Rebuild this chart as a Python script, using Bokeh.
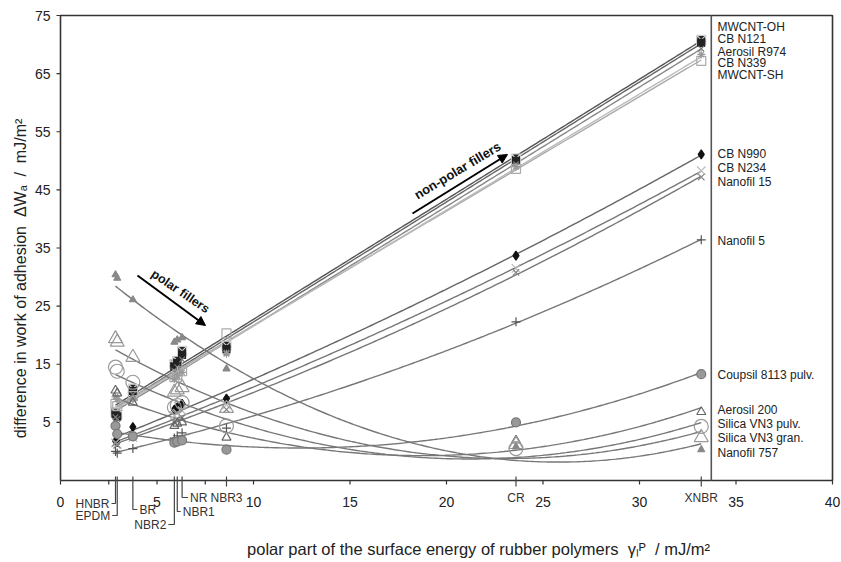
import numpy as np
from bokeh.plotting import figure
from bokeh.models import Range1d, Arrow, NormalHead
from bokeh.core.properties import value
from bokeh.embed import file_html
from bokeh.resources import INLINE

# ---------------- data ----------------
polymers = ["HNBR", "EPDM", "BR", "NBR2", "NBR1", "NR", "NBR3", "CR", "XNBR"]
gamma_p = [2.85, 2.94, 3.75, 5.90, 6.05, 6.30, 8.60, 23.6, 33.2]

# non-polar fillers (values at each polymer above)
mwcnt_oh     = [6.8, 6.3, 10.8, 15.0, 15.6, 17.3, 18.2, 50.4, 70.8]
cb_n121      = [6.4, 6.0, 10.4, 14.6, 15.2, 16.6, 17.6, 50.0, 70.3]
aerosil_r974 = [5.9, 5.6, 9.8, 13.9, 14.5, 15.8, 17.0, 49.4, 69.3]
cb_n339      = [8.2, 7.8, 9.5, 12.8, 13.2, 13.8, 20.3, 48.6, 67.2]
mwcnt_sh     = [9.4, 9.0, 8.9, 12.5, 13.0, 13.6, 16.8, 49.0, 68.3]
cb_n990      = [1.8, 1.6, 4.2, 7.2, 7.6, 8.2, 9.1, 33.7, 51.1]
cb_n234      = [1.5, 1.2, 2.4, 6.2, 6.6, 7.0, 8.0, 31.5, 48.3]
nanofil_15   = [1.4, 1.1, 2.8, 5.0, 5.4, 5.8, 7.2, 30.8, 47.2]
nanofil_5    = [0.0, -0.3, 0.5, 2.3, 2.7, 3.2, 4.0, 22.3, 36.4]
# polar fillers
coupsil_8113 = [4.4, 3.0, 2.6, 1.5, 1.7, 1.9, 0.3, 5.0, 13.3]
aerosil_200  = [10.5, 10.0, 8.4, 4.4, 4.8, 5.0, 2.4, 1.9, 6.8]
vn3_pulv     = [14.5, 13.8, 11.9, 7.6, 7.9, 8.4, 4.4, 0.5, 4.3]
vn3_gran     = [19.4, 18.8, 16.2, 10.2, 10.6, 11.0, 7.4, 1.2, 2.4]
nanofil_757  = [30.4, 29.8, 26.1, 18.8, 19.2, 19.6, 14.2, 0.8, 0.3]

filler_names = ["MWCNT-OH", "CB N121", "Aerosil R974", "CB N339", "MWCNT-SH",
                "CB N990", "CB N234", "Nanofil 15", "Nanofil 5",
                "Coupsil 8113 pulv.", "Aerosil 200", "Silica VN3 pulv.",
                "Silica VN3 gran.", "Nanofil 757"]
filler_values = [mwcnt_oh, cb_n121, aerosil_r974, cb_n339, mwcnt_sh,
                 cb_n990, cb_n234, nanofil_15, nanofil_5,
                 coupsil_8113, aerosil_200, vn3_pulv, vn3_gran, nanofil_757]
fit_degree = [1, 1, 1, 1, 1, 2, 2, 2, 2, 2, 2, 2, 2, 2]

x_ticks = [0, 5, 10, 15, 20, 25, 30, 35, 40]
x_minor_ticks = [2.5, 7.5]
y_ticks = [5, 15, 25, 35, 45, 55, 65, 75]

# ---------------- layout / style ----------------
W, H = 841, 562
PX_PER_X, PX_PER_Y = 19.3, 5.8125
X_LO = -60 / PX_PER_X
X_HI = X_LO + W / PX_PER_X
Y_HI = 75 + 15 / PX_PER_Y
Y_LO = Y_HI - H / PX_PER_Y

def sx(px):   # screen px -> data x
    return X_LO + px / PX_PER_X

def sy(py):   # screen px (from top) -> data y
    return Y_HI - py / PX_PER_Y

def dxp(px):  # px length -> data x length
    return px / PX_PER_X

FONT = value("Liberation Sans")

# marker, size, fill, line, curve colour
styles = [
    ("square_x", 9, "#222222", "#d0d0d0", "#555555"),
    ("square", 7, "#222222", "#222222", "#666666"),
    ("x", 8, None, "#777777", "#888888"),
    ("square", 9, None, "#aaaaaa", "#aaaaaa"),
    ("asterisk", 8, None, "#999999", "#bbbbbb"),
    ("diamond", 9, "#111111", "#111111", "#666666"),
    ("x", 12, None, "#bbbbbb", "#777777"),
    ("x", 9, None, "#888888", "#777777"),
    ("cross", 9, None, "#555555", "#777777"),
    ("circle", 9, "#999999", "#777777", "#777777"),
    ("triangle", 9, None, "#666666", "#777777"),
    ("circle", 14, None, "#999999", "#777777"),
    ("triangle", 14, None, "#999999", "#777777"),
    ("triangle", 7, "#888888", "#888888", "#777777"),
]
label_py = [26, 38, 51, 62, 74, 153, 167, 181, 240, 374, 409, 423, 437, 452]

p = figure(width=W, height=H, x_range=Range1d(X_LO, X_HI), y_range=Range1d(Y_LO, Y_HI),
           x_axis_location=None, y_axis_location=None, toolbar_location=None,
           output_backend="svg", min_border=0, min_border_left=0, min_border_right=0,
           min_border_top=0, min_border_bottom=0, outline_line_color=None,
           background_fill_color="white", border_fill_color="white")
p.xgrid.visible = False
p.ygrid.visible = False

# fitted curves
xmin, xmax = min(gamma_p), max(gamma_p)
xs_fit = np.linspace(xmin, xmax, 200)
for vals, deg, st in zip(filler_values, fit_degree, styles):
    coef = np.polyfit(gamma_p, vals, deg)
    p.line(xs_fit, np.polyval(coef, xs_fit), line_color=st[4], line_width=1.4)

# markers
for vals, st in zip(filler_values, styles):
    marker, size, fill, line, _ = st
    p.scatter(gamma_p, vals, marker=marker, size=size,
              fill_color=fill if fill else "white", fill_alpha=1.0 if fill else 0.0,
              line_color=line, line_width=1.2)

# frame box and the separator line
p.line([0, 40, 40, 0, 0], [-5, -5, 75, 75, -5], line_color="#333333", line_width=1.6)
p.segment(x0=[33.72], y0=[-5], x1=[33.72], y1=[75], line_color="#555555", line_width=1.6)

# y axis ticks + labels
p.segment(x0=[0] * len(y_ticks), y0=y_ticks, x1=[-dxp(4)] * len(y_ticks), y1=y_ticks,
          line_color="#333333", line_width=1.2)
p.text(x=[-dxp(10)] * len(y_ticks), y=y_ticks, text=[str(t) for t in y_ticks],
       text_font=FONT, text_font_size=value("14px"), text_align="right",
       text_baseline="middle", text_color="#222222")

# x axis ticks + labels
all_xt = x_ticks + x_minor_ticks
p.segment(x0=all_xt, y0=[-5] * len(all_xt), x1=all_xt, y1=[sy(484)] * len(all_xt),
          line_color="#333333", line_width=1.2)
p.text(x=x_ticks, y=[sy(501)] * len(x_ticks), text=[str(t) for t in x_ticks],
       text_font=FONT, text_font_size=value("14px"), text_align="center",
       text_baseline="middle", text_color="#222222")

# polymer markers on the x axis
bracket = {
    "HNBR": (503, -4, "right"),
    "EPDM": (515, -5, "right"),
    "BR": (509, 4.5, "left"),
    "NBR2": (524, -6, "right"),
    "NBR1": (511, 3.5, "left"),
    "NR": (497, 6, "left"),
    "NBR3": (486, 0, "center"),
    "CR": (486, 0, "center"),
    "XNBR": (486, 0, "center"),
}
bx, by, lx, ly, lt, la = [], [], [], [], [], []
for name, gx in zip(polymers, gamma_p):
    end_py, stub, side = bracket[name]
    if side == "center":
        bx.append([gx, gx]); by.append([sy(476), sy(end_py)])
        lx.append(gx); ly.append(sy(497)); lt.append(name); la.append("center")
    else:
        bx.append([gx, gx, gx + dxp(stub)]); by.append([sy(476), sy(end_py), sy(end_py)])
        gap = 2 if stub > 0 else -2
        lx.append(gx + dxp(stub + gap)); ly.append(sy(end_py)); lt.append(name)
        la.append("left" if stub > 0 else "right")
p.multi_line(xs=bx, ys=by, line_color="#444444", line_width=1.2)
for x_, y_, t_, a_ in zip(lx, ly, lt, la):
    p.text(x=[x_], y=[y_], text=[t_], text_font=FONT, text_font_size=value("12px"),
           text_align=a_, text_baseline="middle", text_color="#333333")

# right-hand filler labels
p.text(x=[sx(717)] * len(filler_names), y=[sy(v) for v in label_py], text=filler_names,
       text_font=FONT, text_font_size=value("12px"), text_align="left",
       text_baseline="middle", text_color="#222222")

# axis titles
p.text(x=[sx(20)], y=[sy(278)],
       text=["difference in work of adhesion \u00a0\u0394W\u2090 \u00a0/ \u00a0mJ/m\u00b2"],
       angle=[np.pi / 2], text_font=FONT, text_font_size=value("16px"),
       text_align="center", text_baseline="middle", text_color="#222222")
p.text(x=[sx(478)], y=[sy(548)],
       text=["polar part of the surface energy of rubber polymers \u00a0\u03b3\u2097\u1d3e \u00a0/ mJ/m\u00b2"],
       text_font=FONT, text_font_size=value("16.5px"), text_align="center",
       text_baseline="middle", text_color="#222222")

# annotations with arrows
p.text(x=[sx(180)], y=[sy(291)], text=["polar fillers"], angle=[np.deg2rad(-34)],
       text_font=FONT, text_font_size=value("12.5px"), text_font_style="bold",
       text_align="center", text_baseline="middle", text_color="#111111")
p.add_layout(Arrow(end=NormalHead(size=9, fill_color="black", line_color="black"),
                   x_start=sx(137), y_start=sy(275), x_end=sx(205), y_end=sy(325),
                   line_color="black", line_width=2))
p.text(x=[sx(457)], y=[sy(170)], text=["non-polar fillers"], angle=[np.deg2rad(31)],
       text_font=FONT, text_font_size=value("13px"), text_font_style="bold",
       text_align="center", text_baseline="middle", text_color="#111111")
p.add_layout(Arrow(end=NormalHead(size=9, fill_color="black", line_color="black"),
                   x_start=sx(412), y_start=sy(213), x_end=sx(507), y_end=sy(154),
                   line_color="black", line_width=2))

open("out.html", "w").write(file_html(p, INLINE))
